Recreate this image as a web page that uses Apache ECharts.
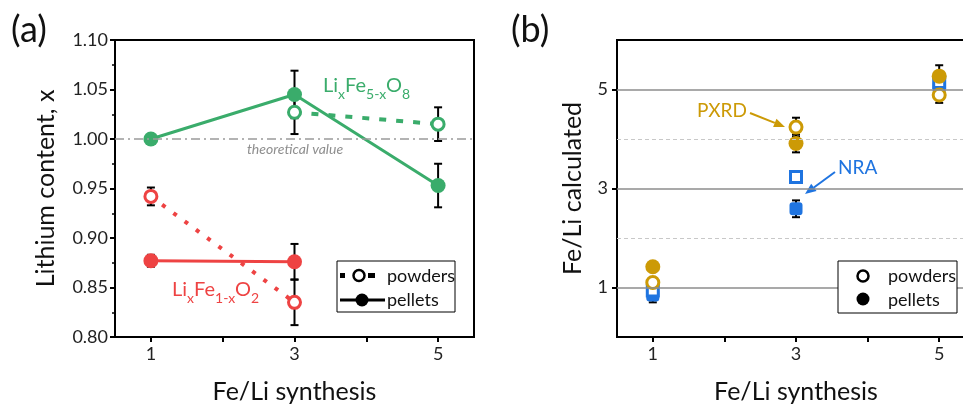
<!DOCTYPE html>
<html>
<head>
<meta charset="utf-8">
<script src="https://cdn.jsdelivr.net/npm/echarts@6/dist/echarts.min.js"></script>
<style>
  html, body { margin: 0; padding: 0; background: #fff; }
  #chart { width: 963px; height: 405px; }
</style>
</head>
<body>
<div id="chart"></div>
<script>
// Fe/Li synthesis ratios (x positions)
const xSyn = [1, 3, 5];

// (a) lithium content x
const li58Pellets = [1.000, 1.045, 0.953];
const li58PelletsErr = [0, 0.024, 0.022];
const li58Powders = [null, 1.027, 1.015];
const li58PowdersErr = [0, 0.022, 0.017];
const li12Pellets = [0.877, 0.876, null];
const li12PelletsErr = [0.006, 0.018, 0];
const li12Powders = [0.942, 0.835, null];
const li12PowdersErr = [0.009, 0.023, 0];
const theoretical = 1.0;

// (b) Fe/Li calculated
const pxrdPowders = [1.10, 4.24, 4.89];
const pxrdPowdersErr = [0, 0.19, 0.16];
const pxrdPellets = [1.42, 3.91, 5.27];
const pxrdPelletsErr = [0, 0.18, 0.22];
const nraPowders = [0.94, 3.23, 5.15];
const nraPellets = [0.85, 2.59, 5.05];
const nraPelletsErr = [0.15, 0.17, 0.10];
const majorLines = [1, 3, 5];
const minorLines = [2, 4];

const GREEN = '#3aac6b', RED = '#ee4343', GOLD = '#cc9a06', BLUE = '#1f74e0';
const FONT = 'Lato';

function pts(vals) {
  return xSyn.map((x, i) => vals[i] == null ? null : [x, vals[i]]).filter(Boolean);
}
function errs(vals, e) {
  return xSyn.map((x, i) => (vals[i] == null || !e[i]) ? null : [x, vals[i] - e[i], vals[i] + e[i]]).filter(Boolean);
}

function errSeries(data, idx) {
  return {
    type: 'custom', xAxisIndex: idx, yAxisIndex: idx, z: 1, silent: true,
    encode: { x: 0, y: [1, 2] },
    data: data,
    renderItem: function (params, api) {
      const p1 = api.coord([api.value(0), api.value(1)]);
      const p2 = api.coord([api.value(0), api.value(2)]);
      const w = 4;
      const st = { stroke: '#000', lineWidth: 2 };
      return {
        type: 'group',
        children: [
          { type: 'line', shape: { x1: p1[0], y1: p1[1], x2: p2[0], y2: p2[1] }, style: st },
          { type: 'line', shape: { x1: p1[0] - w, y1: p1[1], x2: p1[0] + w, y2: p1[1] }, style: st },
          { type: 'line', shape: { x1: p2[0] - w, y1: p2[1], x2: p2[0] + w, y2: p2[1] }, style: st }
        ]
      };
    }
  };
}

function filled(color) {
  return { color: color, borderWidth: 0, opacity: 1 };
}
function open(color) {
  return { color: '#fff', borderColor: color, borderWidth: 3, opacity: 1 };
}

const chart = echarts.init(document.getElementById('chart'));

const axisLine = { show: true, onZero: false, lineStyle: { color: '#000', width: 2 } };
const labelStyle = { fontFamily: FONT, fontSize: 18, color: '#222' };
const nameStyle = { fontFamily: FONT, fontSize: 25, color: '#111' };

function xAxisFor(idx) {
  return {
    type: 'value', gridIndex: idx, min: 0.5, max: 5.5,
    name: 'Fe/Li synthesis', nameLocation: 'middle', nameGap: 42, nameTextStyle: nameStyle,
    axisLine: axisLine,
    axisTick: { show: true, length: 5, customValues: [1, 2, 3, 4, 5], lineStyle: { color: '#000', width: 2 } },
    axisLabel: Object.assign({ customValues: [1, 3, 5], margin: 8 }, labelStyle),
    splitLine: { show: false }
  };
}

const sub = function (color) {
  return {
    n: { fontFamily: FONT, fontSize: 20, fill: color, lineHeight: 30, verticalAlign: 'middle' },
    s: { fontFamily: FONT, fontSize: 14, fill: color, lineHeight: 14, verticalAlign: 'bottom' }
  };
};

function arrow(x1, y1, x2, y2, color) {
  const ang = Math.atan2(y2 - y1, x2 - x1);
  const L = 11, W = 4.5;
  const bx = x2 - L * Math.cos(ang), by = y2 - L * Math.sin(ang);
  const nx = -Math.sin(ang), ny = Math.cos(ang);
  return [
    { type: 'line', shape: { x1: x1, y1: y1, x2: bx, y2: by }, style: { stroke: color, lineWidth: 2 } },
    { type: 'polygon', shape: { points: [[x2, y2], [bx + nx * W, by + ny * W], [bx - nx * W, by - ny * W]] }, style: { fill: color } }
  ];
}

const legendText = { fontFamily: FONT, fontSize: 18, fill: '#111', verticalAlign: 'middle' };

const option = {
  backgroundColor: '#fff',
  animation: false,
  grid: [
    { left: 115, right: 489, top: 40, bottom: 68, show: true, borderColor: '#000', borderWidth: 2, outerBoundsMode: 'none' },
    { left: 617, right: -12, top: 40, bottom: 68, show: true, borderColor: '#000', borderWidth: 2, outerBoundsMode: 'none' }
  ],
  xAxis: [xAxisFor(0), xAxisFor(1)],
  yAxis: [
    {
      type: 'value', gridIndex: 0, min: 0.8, max: 1.1, interval: 0.05,
      name: 'Lithium content, x', nameLocation: 'middle', nameGap: 57, nameTextStyle: nameStyle,
      axisLine: axisLine,
      axisTick: { show: true, length: 5, lineStyle: { color: '#000', width: 2 } },
      minorTick: { show: true, splitNumber: 2, length: 3, lineStyle: { color: '#000', width: 1.5 } },
      axisLabel: Object.assign({ margin: 7, formatter: v => v.toFixed(2) }, labelStyle),
      splitLine: { show: false }
    },
    {
      type: 'value', gridIndex: 1, min: 0, max: 6, interval: 1,
      name: 'Fe/Li calculated', nameLocation: 'middle', nameGap: 32, nameTextStyle: nameStyle,
      axisLine: axisLine,
      axisTick: { show: true, length: 5, customValues: [1, 3, 5], lineStyle: { color: '#000', width: 2 } },
      axisLabel: Object.assign({ margin: 9, customValues: [1, 3, 5] }, labelStyle),
      splitLine: { show: false }
    }
  ],
  series: [
    // (a) theoretical line
    {
      type: 'line', xAxisIndex: 0, yAxisIndex: 0, data: [], silent: true,
      markLine: {
        symbol: 'none', silent: true, label: { show: false },
        lineStyle: { color: '#9a9a9a', width: 1.5, type: [9, 4, 2, 4] },
        data: [{ yAxis: theoretical }]
      }
    },
    errSeries(errs(li58Pellets, li58PelletsErr), 0),
    errSeries(errs(li58Powders, li58PowdersErr), 0),
    errSeries(errs(li12Pellets, li12PelletsErr), 0),
    errSeries(errs(li12Powders, li12PowdersErr), 0),
    {
      type: 'line', xAxisIndex: 0, yAxisIndex: 0, z: 3, data: pts(li58Pellets),
      symbol: 'circle', symbolSize: 15, itemStyle: filled(GREEN),
      lineStyle: { color: GREEN, width: 3 }
    },
    {
      type: 'line', xAxisIndex: 0, yAxisIndex: 0, z: 3, data: pts(li58Powders),
      symbol: 'circle', symbolSize: 12, itemStyle: open(GREEN),
      lineStyle: { color: GREEN, width: 4, type: [7, 10] }
    },
    {
      type: 'line', xAxisIndex: 0, yAxisIndex: 0, z: 3, data: pts(li12Pellets),
      symbol: 'circle', symbolSize: 15, itemStyle: filled(RED),
      lineStyle: { color: RED, width: 3 }
    },
    {
      type: 'line', xAxisIndex: 0, yAxisIndex: 0, z: 3, data: pts(li12Powders),
      symbol: 'circle', symbolSize: 12, itemStyle: open(RED),
      lineStyle: { color: RED, width: 4, type: [4, 10] }
    },
    // (b) grid lines
    {
      type: 'line', xAxisIndex: 1, yAxisIndex: 1, data: [], silent: true,
      markLine: {
        symbol: 'none', silent: true, label: { show: false },
        data: majorLines.map(v => ({ yAxis: v, lineStyle: { color: '#8c8c8c', width: 1.5, type: 'solid' } }))
          .concat(minorLines.map(v => ({ yAxis: v, lineStyle: { color: '#c8c8c8', width: 1, type: [4, 3] } })))
      }
    },
    errSeries(errs(nraPellets, nraPelletsErr), 1),
    errSeries(errs(pxrdPowders, pxrdPowdersErr), 1),
    errSeries(errs(pxrdPellets, pxrdPelletsErr), 1),
    {
      type: 'scatter', xAxisIndex: 1, yAxisIndex: 1, z: 3, data: pts(nraPellets),
      symbol: 'roundRect', symbolSize: 13, itemStyle: filled(BLUE)
    },
    {
      type: 'scatter', xAxisIndex: 1, yAxisIndex: 1, z: 3, data: pts(nraPowders),
      symbol: 'rect', symbolSize: 11, itemStyle: open(BLUE)
    },
    {
      type: 'scatter', xAxisIndex: 1, yAxisIndex: 1, z: 4, data: pts(pxrdPellets),
      symbol: 'circle', symbolSize: 15, itemStyle: filled(GOLD)
    },
    {
      type: 'scatter', xAxisIndex: 1, yAxisIndex: 1, z: 4, data: pts(pxrdPowders),
      symbol: 'circle', symbolSize: 12, itemStyle: open(GOLD)
    }
  ],
  graphic: [
    { type: 'text', left: 11, top: 12, style: { text: '(a)', fontFamily: FONT, fontSize: 36, fill: '#111' } },
    { type: 'text', left: 511, top: 12, style: { text: '(b)', fontFamily: FONT, fontSize: 36, fill: '#111' } },
    { type: 'text', x: 295, y: 149, style: { text: 'theoretical value', fontFamily: FONT, fontStyle: 'italic', fontSize: 14, fill: '#8f8f8f', align: 'center', verticalAlign: 'middle' } },
    { type: 'text', x: 323, y: 71, style: { text: '{n|Li}{s|x}{n|Fe}{s|5-x}{n|O}{s|8}', rich: sub(GREEN) } },
    { type: 'text', x: 172, y: 275, style: { text: '{n|Li}{s|x}{n|Fe}{s|1-x}{n|O}{s|2}', rich: sub(RED) } },
    { type: 'text', x: 697, y: 111, style: { text: 'PXRD', fontFamily: FONT, fontSize: 19, fill: GOLD, verticalAlign: 'middle' } },
    { type: 'text', x: 838, y: 168, style: { text: 'NRA', fontFamily: FONT, fontSize: 19, fill: BLUE, verticalAlign: 'middle' } }
  ]
    .concat(arrow(750, 113, 785, 127, GOLD))
    .concat(arrow(835, 172, 805, 194, BLUE))
    .concat([
      // legend (a)
      { type: 'rect', shape: { x: 337, y: 261, width: 118, height: 51 }, style: { fill: '#fff', stroke: '#000', lineWidth: 1 }, z: 10 },
      { type: 'rect', shape: { x: 340, y: 273, width: 5, height: 5 }, style: { fill: '#000' }, z: 11 },
      { type: 'rect', shape: { x: 368, y: 273, width: 7, height: 5 }, style: { fill: '#000' }, z: 11 },
      { type: 'circle', shape: { cx: 359, cy: 275.5, r: 5.5 }, style: { fill: '#fff', stroke: '#000', lineWidth: 2.5 }, z: 11 },
      { type: 'text', x: 387, y: 276, style: Object.assign({ text: 'powders' }, legendText), z: 11 },
      { type: 'line', shape: { x1: 340, y1: 300, x2: 385, y2: 300 }, style: { stroke: '#000', lineWidth: 3 }, z: 11 },
      { type: 'circle', shape: { cx: 362, cy: 300, r: 6.5 }, style: { fill: '#000' }, z: 11 },
      { type: 'text', x: 387, y: 300, style: Object.assign({ text: 'pellets' }, legendText), z: 11 },
      // legend (b)
      { type: 'rect', shape: { x: 838, y: 261, width: 119, height: 52 }, style: { fill: '#fff', stroke: '#000', lineWidth: 1 }, z: 10 },
      { type: 'circle', shape: { cx: 863, cy: 276, r: 5.5 }, style: { fill: '#fff', stroke: '#000', lineWidth: 2.5 }, z: 11 },
      { type: 'text', x: 888, y: 276, style: Object.assign({ text: 'powders' }, legendText), z: 11 },
      { type: 'circle', shape: { cx: 863, cy: 299, r: 6.5 }, style: { fill: '#000' }, z: 11 },
      { type: 'text', x: 888, y: 300, style: Object.assign({ text: 'pellets' }, legendText), z: 11 }
    ])
};

chart.setOption(option);
</script>
</body>
</html>
